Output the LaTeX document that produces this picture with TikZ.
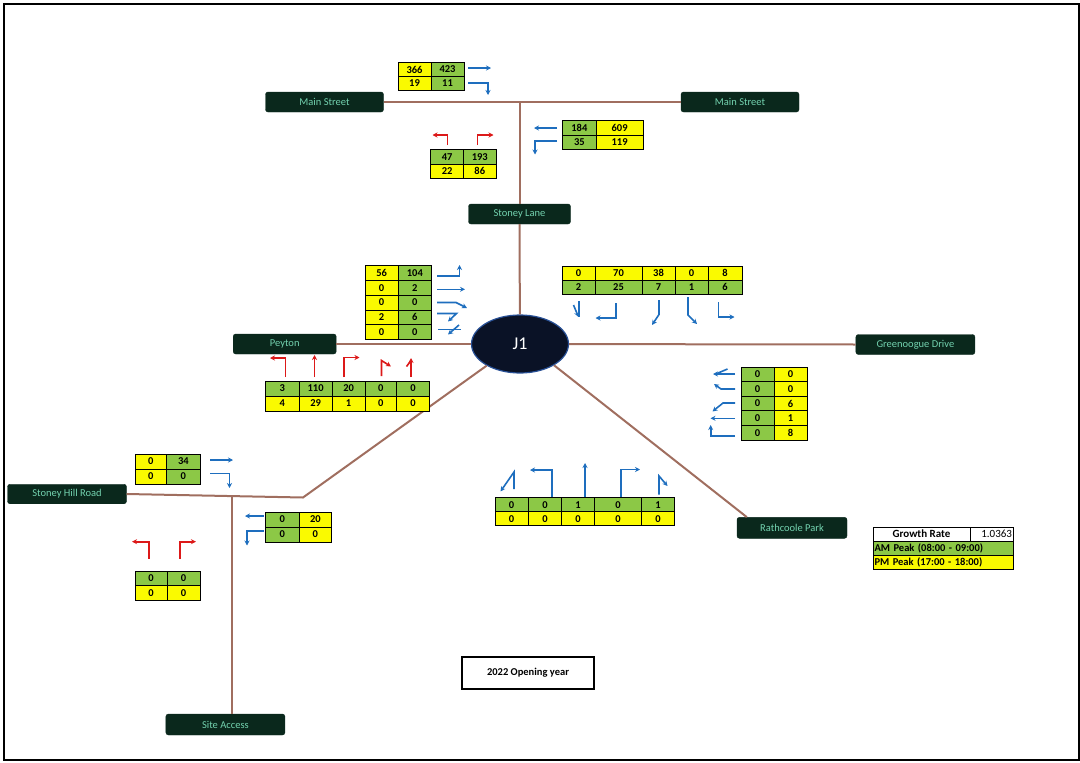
\documentclass[tikz,border=0pt]{standalone}
\usepackage{fontspec}
\setmainfont{Carlito}
\usetikzlibrary{arrows.meta,shapes.geometric}
\definecolor{yel}{RGB}{250,250,0}
\definecolor{grn}{RGB}{140,200,70}
\definecolor{road}{RGB}{160,110,95}
\definecolor{lblfill}{RGB}{10,40,28}
\definecolor{lbltext}{RGB}{115,210,175}
\definecolor{arrblue}{RGB}{30,110,190}
\definecolor{arrred}{RGB}{220,25,25}
\definecolor{jfill}{RGB}{10,18,38}
\definecolor{jdraw}{RGB}{40,80,150}
\tikzset{
  cell/.style={draw=black, line width=0.8pt, inner sep=0pt, text=black,
    font=\fontsize{10.5}{12}\selectfont\bfseries},
  lbl/.style={fill=lblfill, draw=lblfill, rounded corners=2.5pt, inner sep=0pt,
    text=lbltext, font=\fontsize{10.5}{12}\selectfont},
  roadline/.style={draw=road, line width=2pt},
  mv/.style={line width=1.6pt, -{Stealth[length=5pt,width=5pt]}},
  bmv/.style={mv, draw=arrblue},
  rmv/.style={mv, draw=arrred},
  bln/.style={line width=1.6pt, draw=arrblue},
  rln/.style={line width=1.6pt, draw=arrred},
}
\newcommand{\cellnode}[7]{\node[cell, fill=#6, minimum width={(#4-#2)*1pt},
  minimum height={(#5-#3)*1pt}] (#1) at ({(#2+#4)/2},{(#3+#5)/2}) {#7};}
\begin{document}
\begin{tikzpicture}[x=1pt,y=-1pt]
\useasboundingbox (0,0) rectangle (1080,763);
\draw[line width=2pt] (3.7,3.5) rectangle (1078.5,760);

% labels
\node[lbl, minimum width=118pt, minimum height=20pt] (msl) at (324.5,102) {Main Street};
\node[lbl, minimum width=118pt, minimum height=20pt] (msr) at (740,102) {Main Street};
\node[lbl, minimum width=102pt, minimum height=20pt] (sl) at (519.5,214) {Stoney Lane};
\node[lbl, minimum width=103pt, minimum height=20pt] (pey) at (284.7,344) {Peyton};
\node[lbl, minimum width=119pt, minimum height=20pt] (gd) at (915.4,344.5) {Greenoogue Drive};
\node[lbl, minimum width=119pt, minimum height=19.5pt] (shr) at (67,494) {Stoney Hill Road};
\node[lbl, minimum width=110pt, minimum height=21pt] (rp) at (792,527.8) {Rathcoole Park};
\node[lbl, minimum width=119pt, minimum height=21pt] (sa) at (225.4,724.5) {Site Access};
\node[ellipse, fill=jfill, draw=jdraw, line width=1.2pt, minimum width=97pt,
  minimum height=58pt, text=white, font=\fontsize{18}{20}\selectfont] (j1) at (520,344) {J1};

% roads
\coordinate (msj) at (519.5,102);
\coordinate (bend) at (303,497.5);
\coordinate (saj) at (231.7,496);
\draw[roadline] (msl.east) -- (msr.west);
\draw[roadline] (msj) -- (sl.north);
\draw[roadline] (sl.south) -- (j1);
\draw[roadline] (pey.east) -- (j1);
\draw[roadline] (j1) -- (gd.west);
\draw[roadline] (j1.-32) -- ([xshift=10pt]rp.north west);
\draw[roadline] (shr.east) -- (bend) -- (j1.-147);
\draw[roadline] (saj) -- (saj |- sa.north);

% T1 Main Street (west approach)
\cellnode{ta1}{398}{62.5}{431}{76.5}{yel}{366}
\cellnode{ta2}{431}{62.5}{464}{76.5}{grn}{423}
\cellnode{ta3}{398}{76.5}{431}{90.5}{yel}{19}
\cellnode{ta4}{431}{76.5}{464}{90.5}{grn}{11}
\draw[bmv] (468,68) -- (491,68);
\draw[bmv] (468,83) -- (488,83) -- (488,95);

% T2 Stoney Lane (to Main Street)
\cellnode{tb1}{430.7}{149.5}{463.5}{164}{grn}{47}
\cellnode{tb2}{463.5}{149.5}{496}{164}{grn}{193}
\cellnode{tb3}{430.7}{164}{463.5}{178.5}{yel}{22}
\cellnode{tb4}{463.5}{164}{496}{178.5}{yel}{86}
\draw[rmv] (447.5,145) -- (447.5,135) -- (432.5,135);
\draw[rmv] (477.5,145) -- (477.5,135) -- (493.5,135);

% T3 Main Street (east approach)
\cellnode{tc1}{562.7}{120.5}{596}{135}{grn}{184}
\cellnode{tc2}{596}{120.5}{643.3}{135}{yel}{609}
\cellnode{tc3}{562.7}{135}{596}{149.5}{grn}{35}
\cellnode{tc4}{596}{135}{643.3}{149.5}{yel}{119}
\draw[bmv] (557,128) -- (534,128);
\draw[bmv] (557,141) -- (535,141) -- (535,154.5);

% T4 Peyton exits
\foreach \u/\v [count=\i] in {56/104,0/2,0/0,2/6,0/0}{
  \pgfmathsetmacro{\ya}{265.5+(\i-1)*14.8}
  \pgfmathsetmacro{\yb}{265.5+\i*14.8}
  \cellnode{td\i a}{365}{\ya}{398.3}{\yb}{yel}{\u}
  \cellnode{td\i b}{398.3}{\ya}{431.5}{\yb}{grn}{\v}
}
\draw[bmv] (437,276) -- (459.5,276) -- (459.5,265);
\draw[bmv] (437,289.3) -- (465,289.3);
\draw[bmv] (437,302.5) -- (456,302.5) -- (467,308);
\draw[bmv] (437,313.5) -- (456.5,313.5) -- (448,321.5);
\draw[bln] (438,329.5) -- (461,329.5);
\draw[bmv] (459,325) -- (448,334.5);

% T5 Stoney Lane approach
\foreach \xa/\xb/\u/\v [count=\i] in {562/595/0/2,595/642/70/25,642/675/38/7,675/708/0/1,708/742/8/6}{
  \cellnode{te\i a}{\xa}{266}{\xb}{280}{yel}{\u}
  \cellnode{te\i b}{\xa}{280}{\xb}{294}{grn}{\v}
}
\draw[bln] (579,301) -- (579,317);
\draw[bmv] (573.5,305) -- (578.5,317);
\draw[bmv] (616,303) -- (616,318) -- (595.5,318);
\draw[bmv] (659,300) -- (659,314.5) -- (652,325);
\draw[bmv] (688,297) -- (688,315) -- (697,324);
\draw[bmv] (718.3,302) -- (718.3,317) -- (734.5,317);

% T6 Peyton approach
\foreach \xa/\xb/\u/\v [count=\i] in {265.7/299/3/4,299/332.3/110/29,332.3/365/20/1,365/396.7/0/0,396.7/429.5/0/0}{
  \cellnode{tf\i a}{\xa}{381}{\xb}{396}{grn}{\u}
  \cellnode{tf\i b}{\xa}{396}{\xb}{411}{yel}{\v}
}
\draw[rmv] (285.5,377) -- (285.5,358) -- (270,358);
\draw[rmv] (314.5,377) -- (314.5,355);
\draw[rmv] (344,377) -- (344,357.5) -- (359.5,357.5);
\draw[rmv] (381.5,376) -- (381.5,360.5) -- (391,366.5);
\draw[rmv] (411,377) -- (411,358);
\draw[rln] (406.5,366.5) -- (411,360.5);

% T7 Greenoogue Drive approach
\foreach \u/\v [count=\i] in {0/0,0/0,0/6,0/1,0/8}{
  \pgfmathsetmacro{\ya}{367+(\i-1)*14.6}
  \pgfmathsetmacro{\yb}{367+\i*14.6}
  \cellnode{tg\i a}{741}{\ya}{774}{\yb}{grn}{\u}
  \cellnode{tg\i b}{774}{\ya}{807}{\yb}{yel}{\v}
}
\draw[bmv] (735,374) -- (713,374);
\draw[bln] (727.5,369) -- (717,373.5);
\draw[bmv] (735,389) -- (721,389) -- (714,384);
\draw[bmv] (735,403) -- (723,403) -- (712.5,411.5);
\draw[bmv] (735,418.3) -- (710.5,418.3);
\draw[bmv] (735,436) -- (710.7,436) -- (710.7,425);

% T8 Rathcoole Park approach
\foreach \xa/\xb/\u/\v [count=\i] in {495/528.3/0/0,528.3/561.7/0/0,561.7/594.3/1/0,594.3/641.7/0/0,641.7/674.3/1/0}{
  \cellnode{th\i a}{\xa}{497.7}{\xb}{511.7}{grn}{\u}
  \cellnode{th\i b}{\xa}{511.7}{\xb}{525.7}{yel}{\v}
}
\draw[bmv] (514,489) -- (514,472) -- (500.5,491.5);
\draw[bmv] (551.7,497) -- (551.7,470) -- (530,470);
\draw[bmv] (585,497) -- (585,463);
\draw[bmv] (620.7,497) -- (620.7,469.5) -- (640,469.5);
\draw[bmv] (659,494.5) -- (659,476) -- (667.5,486);

% T9 Stoney Hill Road approach
\cellnode{ti1}{135}{454}{166.7}{469}{yel}{0}
\cellnode{ti2}{166.7}{454}{200}{469}{grn}{34}
\cellnode{ti3}{135}{469}{166.7}{484}{yel}{0}
\cellnode{ti4}{166.7}{469}{200}{484}{grn}{0}
\draw[bmv] (210,460) -- (233,460);
\draw[bmv] (210,473.3) -- (229.5,473.3) -- (229.5,488);

% T10 Stoney Hill Road (eastern section)
\cellnode{tj1}{265.7}{512}{299}{527}{grn}{0}
\cellnode{tj2}{299}{512}{331.7}{527}{yel}{20}
\cellnode{tj3}{265.7}{527}{299}{542}{grn}{0}
\cellnode{tj4}{299}{527}{331.7}{542}{yel}{0}
\draw[bmv] (263.5,516) -- (245,516);
\draw[bmv] (263.5,531) -- (247,531) -- (247,545.5);

% T11 Site Access approach
\cellnode{tk1}{135}{571}{167}{585.5}{grn}{0}
\cellnode{tk2}{167}{571}{200}{585.5}{grn}{0}
\cellnode{tk3}{135}{585.5}{167}{600}{yel}{0}
\cellnode{tk4}{167}{585.5}{200}{600}{yel}{0}
\draw[rmv] (149,558.5) -- (149,541.7) -- (132,541.7);
\draw[rmv] (180,558.5) -- (180,541.7) -- (196,541.7);

% legend
\node[cell, fill=white, minimum width=97pt, minimum height=14pt,
  font=\fontsize{11}{12}\selectfont\bfseries] (lg1) at (921.5,534) {Growth Rate};
\node[cell, fill=white, minimum width=43pt, minimum height=14pt, text width=41pt,
  align=right, font=\fontsize{11}{12}\selectfont] (lg2) at (991.5,534) {1.0363};
\node[cell, fill=grn, minimum width=140pt, minimum height=14pt, text width=137pt,
  align=left] (lg3) at (943,548) {AM Peak (08:00 - 09:00)};
\node[cell, fill=yel, minimum width=140pt, minimum height=14pt, text width=137pt,
  align=left] (lg4) at (943,562) {PM Peak (17:00 - 18:00)};

% title box
\node[draw=black, line width=2pt, fill=white, minimum width=132pt, minimum height=32pt,
  inner sep=0pt, font=\fontsize{10.5}{12}\selectfont\bfseries] (yr) at (528,673) {2022 Opening year};
\end{tikzpicture}
\end{document}
